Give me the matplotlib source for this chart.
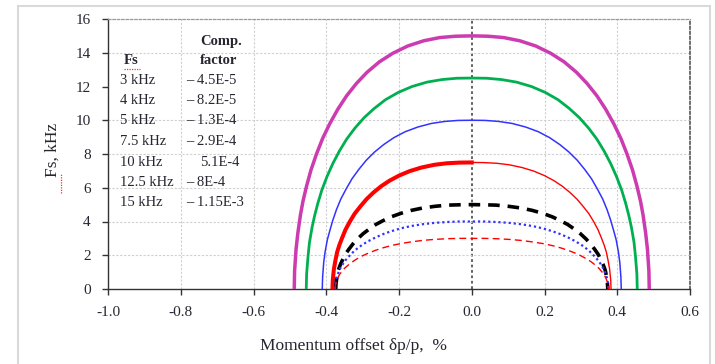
import matplotlib
matplotlib.use("Agg")
import matplotlib.pyplot as plt
from matplotlib.patches import Rectangle
from matplotlib.lines import Line2D

plt.rcParams['font.family'] = ['Liberation Serif', 'DejaVu Serif']
plt.rcParams['axes.unicode_minus'] = False

# ---- data ----
# Each curve is symmetric about dp = 0: |momentum offset| (%) from the edge to the centre,
# with the synchrotron frequency Fs (kHz) at those offsets.
dp_15 = [.488, .487, .483, .478, .471, .464, .454, .442, .427, .410, .390, .368, .344, .317,
         .288, .254, .217, .176, .132, .088, .044, 0]
fs_15 = [0, 1.06, 2.36, 3.33, 4.38, 5.20, 6.11, 7.05, 7.99, 8.92, 9.81, 10.66, 11.45, 12.18,
         12.84, 13.46, 13.97, 14.40, 14.71, 14.90, 14.98, 15.0]

dp_125 = [.455, .454, .450, .446, .439, .432, .423, .412, .398, .382, .364, .344, .321, .296,
          .268, .237, .202, .164, .123, .082, .041, 0]
fs_125 = [0, .88, 1.96, 2.78, 3.65, 4.34, 5.09, 5.87, 6.66, 7.43, 8.17, 8.88, 9.54, 10.15,
          10.70, 11.22, 11.65, 12.00, 12.26, 12.41, 12.49, 12.5]

dp_10 = [.411, .410, .407, .403, .397, .390, .382, .372, .360, .345, .329, .310, .290, .267,
         .242, .214, .183, .148, .111, .074, .037, 0]
fs_10 = [0, .71, 1.57, 2.22, 2.92, 3.47, 4.07, 4.70, 5.33, 5.94, 6.54, 7.10, 7.63, 8.12,
         8.56, 8.97, 9.32, 9.60, 9.81, 9.93, 9.99, 10.0]

dp_75 = [.383, .382, .379, .375, .370, .364, .356, .347, .335, .322, .306, .289, .270, .249,
         .226, .199, .170, .138, .103, .069, .034, 0]
fs_75 = [0, .53, 1.18, 1.67, 2.19, 2.60, 3.05, 3.52, 4.00, 4.46, 4.90, 5.33, 5.72, 6.09,
         6.42, 6.73, 6.99, 7.20, 7.36, 7.45, 7.49, 7.5]

dp_5 = [.374, .373, .370, .367, .361, .355, .348, .338, .327, .314, .299, .282, .264, .243,
        .221, .194, .166, .135, .101, .067, .034, 0]
fs_5 = [0, .35, .79, 1.11, 1.46, 1.73, 2.04, 2.35, 2.66, 2.97, 3.27, 3.55, 3.82, 4.06,
        4.28, 4.49, 4.66, 4.80, 4.90, 4.97, 4.99, 5.0]

dp_4 = [.376, .375, .372, .368, .363, .357, .350, .340, .329, .316, .301, .284, .265, .244,
        .222, .196, .167, .135, .102, .068, .034, 0]
fs_4 = [0, .28, .63, .89, 1.17, 1.39, 1.63, 1.88, 2.13, 2.38, 2.62, 2.84, 3.05, 3.25,
        3.42, 3.59, 3.73, 3.84, 3.92, 3.97, 4.00, 4.0]

dp_3 = [.376, .375, .372, .368, .363, .357, .350, .340, .329, .316, .301, .284, .265, .244,
        .222, .196, .167, .135, .102, .068, .034, 0]
fs_3 = [0, .21, .47, .67, .88, 1.04, 1.22, 1.41, 1.60, 1.78, 1.96, 2.13, 2.29, 2.44,
        2.57, 2.69, 2.79, 2.88, 2.94, 2.98, 3.00, 3.0]

table_fs = ["3 kHz", "4 kHz", "5 kHz", "7.5 kHz", "10 kHz", "12.5 kHz", "15 kHz"]
table_comp = ["\u2013 4.5E-5", "\u2013 8.2E-5", "\u2013 1.3E-4", "\u2013 2.9E-4",
              "5.1E-4", "\u2013 8E-4", "\u2013 1.15E-3"]

x_ticks = [-1.0, -0.8, -0.6, -0.4, -0.2, 0.0, 0.2, 0.4, 0.6]
y_ticks = [0, 2, 4, 6, 8, 10, 12, 14, 16]
y_grid = [2, 4, 6, 8, 10, 14]


def left_branch(dp, fs):
    return [-d for d in dp], list(fs)


def right_branch(dp, fs):
    return list(reversed(dp)), list(reversed(fs))


def full_curve(dp, fs):
    lx, ly = left_branch(dp, fs)
    rx, ry = right_branch(dp, fs)
    return lx + rx[1:], ly + ry[1:]


W, H = 715, 364
fig = plt.figure(figsize=(W / 100, H / 100), dpi=100)
fig.patch.set_facecolor('white')

# light frame around the whole picture
fig.patches.append(Rectangle((18 / W, -0.02), 692 / W, 1.02 - 6 / H,
                             transform=fig.transFigure, fill=False,
                             edgecolor='#d9d9d9', linewidth=1.5))

ax = fig.add_axes([108 / W, 1 - 289 / H, (690 - 108) / W, (289 - 19) / H])
ax.set_xlim(-1.0, 0.6)
ax.set_ylim(0, 16)

txt_color = '#262630'

# grid
for gx in x_ticks[1:-1]:
    if gx == 0.0:
        ax.axvline(gx, color='#555555', linestyle=(0, (1.5, 1.5)), linewidth=1.3, zorder=1)
    else:
        ax.axvline(gx, color='#cfcfcf', linestyle=(0, (2, 1.5)), linewidth=0.8, zorder=1)
for gy in y_grid:
    ax.axhline(gy, color='#cfcfcf', linestyle=(0, (2, 1.5)), linewidth=0.8, zorder=1)

# curves
ax.plot(*full_curve(dp_15, fs_15), color='#CC3BB0', linewidth=2.5, zorder=3)
ax.plot(*full_curve(dp_125, fs_125), color='#00B050', linewidth=2.0, zorder=3)
ax.plot(*full_curve(dp_10, fs_10), color='#3333FF', linewidth=1.1, zorder=3)
ax.plot(*left_branch(dp_75, fs_75), color='#FF0000', linewidth=2.9, zorder=3)
ax.plot(*right_branch(dp_75, fs_75), color='#FF0000', linewidth=1.0, zorder=3)
ax.plot(*full_curve(dp_5, fs_5), color='black', linewidth=2.6,
        linestyle=(0, (3.2, 2.2)), zorder=4)
ax.plot(*full_curve(dp_4, fs_4), color='#3333FF', linewidth=1.6,
        linestyle=(0, (1, 1.3)), zorder=4)
ax.plot(*full_curve(dp_3, fs_3), color='#FF0000', linewidth=1.0,
        linestyle=(0, (5, 3)), zorder=4)

# spines
for s in ['left', 'bottom']:
    ax.spines[s].set_color('#333333')
    ax.spines[s].set_linewidth(1.0)
ax.spines['right'].set_color('#555555')
ax.spines['right'].set_linestyle((0, (1.5, 1.5)))
ax.spines['right'].set_linewidth(1.2)
ax.spines['top'].set_color('#9a9a9a')
ax.spines['top'].set_linestyle((0, (2, 1.5)))
ax.spines['top'].set_linewidth(0.9)

ax.set_xticks(x_ticks)
ax.set_xticklabels(["%.1f" % v for v in x_ticks])
ax.set_yticks(y_ticks)
ax.set_yticklabels([str(v) for v in y_ticks])
ax.tick_params(direction='out', length=4.5, width=1.0, colors='#333333',
               labelsize=11, labelcolor=txt_color)
ax.tick_params(axis='x', pad=8)
ax.tick_params(axis='y', pad=8)

# axis titles
fig.text(353 / W, 1 - 346 / H, "Momentum offset \u03b4p/p,  %", ha='center', va='center',
         fontsize=12.5, color=txt_color)
fig.text(53 / W, 1 - 150 / H, "Fs, kHz", ha='center', va='center', rotation=90,
         fontsize=12.5, color=txt_color)
fig.lines.append(Line2D([61 / W, 61 / W], [1 - 193 / H, 1 - 174 / H], transform=fig.transFigure,
                        color='#ff3030', linewidth=0.9, linestyle=(0, (1, 1))))

# table text
fig.text(200 / W, 1 - 42 / H, "Comp.", ha='left', va='center', fontsize=10.5,
         fontweight='bold', color=txt_color)
fig.text(200 / W, 1 - 61 / H, "factor", ha='left', va='center', fontsize=10.5,
         fontweight='bold', color=txt_color)
fig.text(124 / W, 1 - 61 / H, "Fs", ha='left', va='center', fontsize=10.5,
         fontweight='bold', color=txt_color)
fig.lines.append(Line2D([124 / W, 140 / W], [1 - 69 / H, 1 - 69 / H], transform=fig.transFigure,
                        color='#ff3030', linewidth=0.9, linestyle=(0, (1, 1))))
row_y = [81, 101, 121, 142, 162, 183, 203]
for lab, comp, yy in zip(table_fs, table_comp, row_y):
    fig.text(120 / W, 1 - yy / H, lab, ha='left', va='center', fontsize=10.5, color=txt_color)
    xc = 186 if comp.startswith("\u2013") else 200
    fig.text(xc / W, 1 - yy / H, comp, ha='left', va='center', fontsize=10.5, color=txt_color)

fig.savefig("out.png", dpi=100)
